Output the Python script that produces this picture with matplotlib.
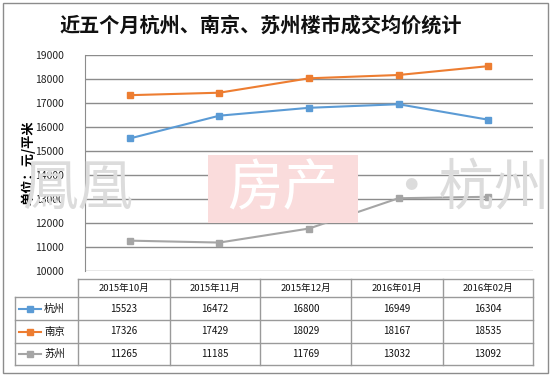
import matplotlib.pyplot as plt
from matplotlib.patches import Rectangle
from matplotlib.lines import Line2D

plt.rcParams['font.family'] = ['Noto Sans CJK SC', 'DejaVu Sans']

months = ['2015年10月', '2015年11月', '2015年12月', '2016年01月', '2016年02月']
cities = ['杭州', '南京', '苏州']
hangzhou = [15523, 16472, 16800, 16949, 16304]
nanjing = [17326, 17429, 18029, 18167, 18535]
suzhou = [11265, 11185, 11769, 13032, 13092]
colors = ['#5B9BD5', '#ED7D31', '#A5A5A5']
yticks = list(range(10000, 19001, 1000))

W, H = 550, 377
fig = plt.figure(figsize=(W / 100, H / 100), dpi=100)

def fx(px):
    return px / W

def fy(py):
    return 1 - py / H

# outer border
fig.patches.append(Rectangle((fx(3), fy(373)), fx(545), 370 / H, transform=fig.transFigure,
                             fill=False, edgecolor='#8c8c8c', linewidth=1))

fig.text(fx(261), fy(25), '近五个月杭州、南京、苏州楼市成交均价统计', ha='center', va='center',
         fontsize=14.5, fontweight='bold', color='#111111')

# watermark
fig.text(fx(22), fy(190), '鳳凰', fontsize=40, color='#dcdcdc', va='center', ha='left', zorder=0)
fig.patches.append(Rectangle((fx(208), fy(223)), fx(150), 68 / H, transform=fig.transFigure,
                             facecolor='#fadcdc', edgecolor='none', zorder=0))
fig.text(fx(283), fy(190), '房产', fontsize=40, color='white', va='center', ha='center', zorder=0)
fig.text(fx(383), fy(190), '•杭州', fontsize=40, color='#dcdcdc', va='center', ha='left', zorder=0)

ax = fig.add_axes([fx(85), fy(271), fx(448), 216 / H])
ax.patch.set_alpha(0)
series = [hangzhou, nanjing, suzhou]
x = list(range(len(months)))
for vals, c in zip(series, colors):
    ax.plot(x, vals, color=c, linewidth=1.5, marker='s', markersize=5, zorder=3)
ax.set_xlim(-0.5, 4.5)
ax.set_ylim(10000, 19000)
ax.set_yticks(yticks)
ax.set_yticklabels([str(v) for v in yticks], fontsize=7.5, color='#222222')
ax.set_xticks([])
ax.grid(axis='y', color='#8c8c8c', linewidth=1)
ax.tick_params(axis='y', length=0, pad=15)
for s in ['top', 'right', 'bottom']:
    ax.spines[s].set_visible(False)
ax.spines['left'].set_color('#8c8c8c')
ax.set_ylabel('单位：元/平米', fontsize=9.5, fontweight='bold', labelpad=0)

# data table
tab = fig.add_axes([0, 0, 1, 1])
tab.set_xlim(0, W)
tab.set_ylim(H, 0)
tab.axis('off')
tab.patch.set_alpha(0)
col_edges = [78, 170, 260, 351, 443, 533]
row_edges = [279, 297, 320, 343, 365]
lc = '#9a9a9a'
tab.plot([78, 533], [279, 279], color=lc, lw=1)
for r in row_edges[1:]:
    tab.plot([15, 533], [r, r], color=lc, lw=1)
for c in col_edges:
    tab.plot([c, c], [279, 365], color=lc, lw=1)
tab.plot([15, 15], [297, 365], color=lc, lw=1)
for j, m in enumerate(months):
    tab.text((col_edges[j] + col_edges[j + 1]) / 2, 288, m, ha='center', va='center',
             fontsize=6.8, color='#111111')
for i, (name, vals, c) in enumerate(zip(cities, series, colors)):
    yc = (row_edges[i + 1] + row_edges[i + 2]) / 2
    tab.add_line(Line2D([19, 41], [yc, yc], color=c, lw=1.5))
    tab.plot([30], [yc], marker='s', color=c, markersize=4.5)
    tab.text(44, yc, name, ha='left', va='center', fontsize=7.5, color='#111111')
    for j, v in enumerate(vals):
        tab.text((col_edges[j] + col_edges[j + 1]) / 2, yc, str(v), ha='center', va='center',
                 fontsize=7, color='#111111')

fig.savefig('out.png', dpi=100)
